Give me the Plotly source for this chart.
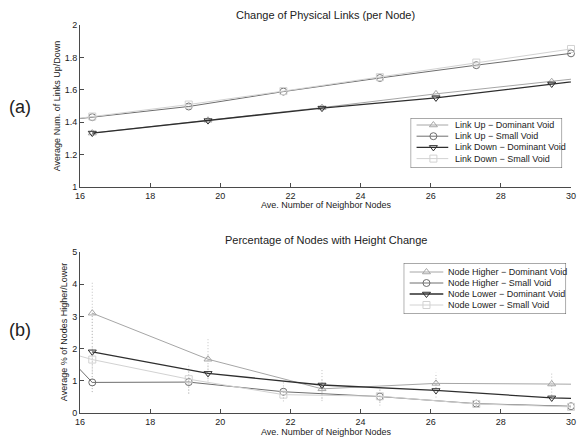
import plotly.graph_objects as go

# Average number of neighbor nodes at which each scenario was measured
x_dominant = [16.35, 19.65, 22.9, 26.15, 29.45, 32.75]
x_small = [13.6, 16.35, 19.1, 21.8, 24.55, 27.3, 30.0]

# (a) Change of physical links per node
link_up_dominant = [1.333, 1.412, 1.49, 1.575, 1.65, 1.73]
link_up_small = [1.365, 1.431, 1.497, 1.589, 1.673, 1.752, 1.825]
link_down_dominant = [1.333, 1.41, 1.487, 1.55, 1.636, 1.72]
link_down_small = [1.36, 1.435, 1.509, 1.592, 1.678, 1.768, 1.852]

# (b) Percentage of nodes with height change, with spread
node_higher_dominant = [3.10, 1.67, 0.75, 0.92, 0.90, 0.87]
node_higher_dominant_err = [0.95, 0.62, 0.32, 0.33, 0.36, 0.35]
node_higher_small = [4.1, 0.95, 0.96, 0.66, 0.51, 0.29, 0.21]
node_higher_small_err = [0.5, 0.3, 0.35, 0.3, 0.28, 0.08, 0.05]
node_lower_dominant = [1.90, 1.23, 0.87, 0.70, 0.47, 0.38]
node_lower_dominant_err = [1.25, 0.25, 0.5, 0.22, 0.12, 0.1]
node_lower_small = [2.5, 1.66, 1.05, 0.57, 0.52, 0.28, 0.19]
node_lower_small_err = [0.4, 0.4, 0.45, 0.12, 0.2, 0.07, 0.05]

x_ticks = [16, 18, 20, 22, 24, 26, 28, 30]
x_range = [16, 30]

FONT = "Liberation Sans, Arial, Helvetica, sans-serif"
TXT = "#222222"
AX = "#4a4a4a"
ERR = "#c2c2c2"

W, H = 579, 443
ML, MR, MT, MB = 80, 3, 25, 30
PW, PH = W - ML - MR, H - MT - MB


def px_x(px):
    return (px - ML) / PW


def px_y(py):
    return (H - MB - py) / PH


# series styles: (color, symbol, width)
sty_up_dom = ("#a6a6a6", "triangle-up-open", 1.0)
sty_up_small = ("#6e6e6e", "circle-open", 1.0)
sty_down_dom = ("#2e2e2e", "triangle-down-open", 1.3)
sty_down_small = ("#d2d2d2", "square-open", 1.0)

fig = go.Figure()


def add_series(xs, ys, style, xa, ya):
    color, symbol, width = style
    # full line (points beyond the axis range are clipped by the subplot)
    fig.add_trace(go.Scatter(x=xs, y=ys, mode="lines", xaxis=xa, yaxis=ya,
                             line=dict(color=color, width=width),
                             showlegend=False, hoverinfo="skip"))
    keep = [i for i, v in enumerate(xs) if x_range[0] <= v <= x_range[1]]
    fig.add_trace(go.Scatter(x=[xs[i] for i in keep], y=[ys[i] for i in keep],
                             mode="markers", xaxis=xa, yaxis=ya, cliponaxis=False,
                             marker=dict(symbol=symbol, size=7, color=color,
                                         line=dict(color=color, width=1)),
                             showlegend=False))


def add_spread(xs, ys, errs, xa, ya):
    ex, ey = [], []
    for x, y, e in zip(xs, ys, errs):
        ex += [x, x, None]
        ey += [y - e, y + e, None]
    fig.add_trace(go.Scatter(x=ex, y=ey, mode="lines", xaxis=xa, yaxis=ya,
                             line=dict(color=ERR, width=1, dash="1px,2px"),
                             showlegend=False, hoverinfo="skip"))


# ---- panel (a)
add_series(x_dominant, link_up_dominant, sty_up_dom, "x", "y")
add_series(x_small, link_up_small, sty_up_small, "x", "y")
add_series(x_dominant, link_down_dominant, sty_down_dom, "x", "y")
add_series(x_small, link_down_small, sty_down_small, "x", "y")

# ---- panel (b)
add_spread(x_dominant, node_higher_dominant, node_higher_dominant_err, "x2", "y2")
add_spread(x_small, node_higher_small, node_higher_small_err, "x2", "y2")
add_spread(x_dominant, node_lower_dominant, node_lower_dominant_err, "x2", "y2")
add_spread(x_small, node_lower_small, node_lower_small_err, "x2", "y2")
add_series(x_dominant, node_higher_dominant, sty_up_dom, "x2", "y2")
add_series(x_small, node_higher_small, sty_up_small, "x2", "y2")
add_series(x_dominant, node_lower_dominant, sty_down_dom, "x2", "y2")
add_series(x_small, node_lower_small, sty_down_small, "x2", "y2")

shapes, annotations = [], []


def boxed_legend(xa, ya, box, line_x, mark_x, text_x, rows, entries):
    x0, x1, y0, y1 = box
    shapes.append(dict(type="rect", xref=xa, yref=ya, x0=x0, x1=x1, y0=y0, y1=y1,
                       line=dict(color="#555555", width=1), fillcolor="white",
                       layer="below"))
    for row, (label, style) in zip(rows, entries):
        color, symbol, width = style
        fig.add_trace(go.Scatter(x=list(line_x), y=[row, row], mode="lines",
                                 xaxis=xa, yaxis=ya, showlegend=False,
                                 line=dict(color=color, width=width), hoverinfo="skip"))
        fig.add_trace(go.Scatter(x=[mark_x], y=[row], mode="markers",
                                 xaxis=xa, yaxis=ya, showlegend=False, cliponaxis=False,
                                 marker=dict(symbol=symbol, size=7, color=color,
                                             line=dict(color=color, width=1)),
                                 hoverinfo="skip"))
        annotations.append(dict(xref=xa, yref=ya, x=text_x, y=row, text=label,
                                showarrow=False, xanchor="left", yanchor="middle",
                                font=dict(family=FONT, size=9, color=TXT)))


boxed_legend("x3", "y3", (414, 567, 118, 168), (420, 452), 437, 457,
             [125, 136.2, 147.4, 158.6],
             [("Link Up − Dominant Void", sty_up_dom),
              ("Link Up − Small Void", sty_up_small),
              ("Link Down − Dominant Void", sty_down_dom),
              ("Link Down − Small Void", sty_down_small)])
boxed_legend("x4", "y4", (407, 571, 263, 314), (413, 447), 430, 450,
             [272, 283, 294, 305],
             [("Node Higher − Dominant Void", sty_up_dom),
              ("Node Higher − Small Void", sty_up_small),
              ("Node Lower − Dominant Void", sty_down_dom),
              ("Node Lower − Small Void", sty_down_small)])


def note(text, px, py, size, angle=0):
    annotations.append(dict(xref="paper", yref="paper", x=px_x(px), y=px_y(py),
                            text=text, showarrow=False, xanchor="center",
                            yanchor="middle", textangle=angle,
                            font=dict(family=FONT, size=size, color=TXT)))


note("Change of Physical Links (per Node)", 328, 15, 11)
note("Percentage of Nodes with Height Change", 328, 240, 11)
note("Ave. Number of Neighbor Nodes", 328, 205, 9)
note("Ave. Number of Neighbor Nodes", 328, 432, 9)
note("Average Num. of Links Up/Down", 57, 106, 9, -90)
note("Average % of Nodes Higher/Lower", 64, 332, 9, -90)
note("(a)", 19, 107, 18)
note("(b)", 19, 330, 18)

tickfont = dict(family=FONT, size=9, color=TXT)
common = dict(showgrid=False, zeroline=False, showline=True, linecolor=AX,
              linewidth=1, ticks="inside", ticklen=4, tickcolor=AX,
              tickfont=tickfont, mirror=False, ticklabeloverflow="allow")
hidden = dict(visible=False, showgrid=False, zeroline=False, fixedrange=True)

fig.update_layout(
    width=W, height=H, autosize=False,
    margin=dict(l=ML, r=MR, t=MT, b=MB, pad=0),
    paper_bgcolor="white", plot_bgcolor="rgba(0,0,0,0)",
    showlegend=False,
    xaxis=dict(domain=[0, 1], anchor="y", range=x_range, tickvals=x_ticks, **common),
    yaxis=dict(domain=[px_y(187), 1], anchor="x", range=[1, 2],
               tickvals=[1, 1.2, 1.4, 1.6, 1.8, 2], **common),
    xaxis2=dict(domain=[0, 1], anchor="y2", range=x_range, tickvals=x_ticks, **common),
    yaxis2=dict(domain=[0, px_y(252)], anchor="x2", range=[0, 5],
                tickvals=[0, 1, 2, 3, 4, 5], **common),
    xaxis3=dict(domain=[px_x(414), px_x(567)], anchor="y3", range=[414, 567], **hidden),
    yaxis3=dict(domain=[px_y(168), px_y(118)], anchor="x3", range=[168, 118], **hidden),
    xaxis4=dict(domain=[px_x(407), px_x(571)], anchor="y4", range=[407, 571], **hidden),
    yaxis4=dict(domain=[px_y(314), px_y(263)], anchor="x4", range=[314, 263], **hidden),
    shapes=shapes,
    annotations=annotations,
)

fig.write_html("out.html")
